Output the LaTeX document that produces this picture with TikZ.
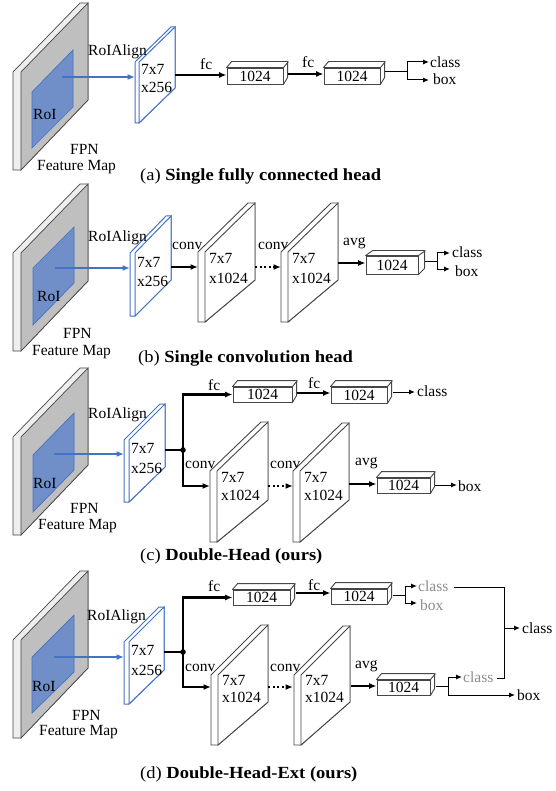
\documentclass[tikz,border=0pt]{standalone}
\usepackage{fontspec}
\setmainfont{Liberation Serif}
\newfontfamily\capfont[FakeStretch=1.09]{Liberation Serif}
\usetikzlibrary{arrows.meta}
\definecolor{roiblue}{RGB}{68,114,196}
\definecolor{roifill}{RGB}{112,142,200}
\definecolor{fpngray}{RGB}{191,191,191}
\definecolor{striplight}{RGB}{238,238,238}
\definecolor{edgegray}{RGB}{70,70,70}
\definecolor{txtgray}{RGB}{140,140,140}
\tikzset{
  lbl/.style={font=\fontsize{15.5}{17}\selectfont, inner sep=0pt, anchor=base west},
  glbl/.style={lbl, text=txtgray},
  captext/.style={font=\capfont\fontsize{17}{20}\selectfont, inner sep=0pt, anchor=base west},
  fcbox/.style={draw=edgegray, line width=0.9pt, fill=white, inner sep=0pt, font=\fontsize{15.5}{17}\selectfont},
  thickarr/.style={line width=2.1pt, -{Latex[length=7.5pt,width=6pt]}},
  thickline/.style={line width=2.1pt},
  dotarr/.style={line width=2.1pt, dash pattern=on 2.2pt off 2.4pt, -{Latex[length=7.5pt,width=6pt]}},
  thinarr/.style={line width=1pt, -{Latex[length=6pt,width=5pt]}},
  thinline/.style={line width=1pt},
  bluearr/.style={roiblue, line width=2.1pt, -{Latex[length=7.5pt,width=6pt]}},
  fpnout/.style={draw=edgegray, fill=striplight, line width=0.7pt},
  fpnfront/.style={draw=edgegray, fill=fpngray, line width=0.7pt},
  roiout/.style={draw=roiblue, fill=white, line width=1pt},
  convout/.style={draw=edgegray, fill=white, line width=0.9pt},
  roiarea/.style={draw=roiblue, fill=roifill, line width=0.7pt},
}
% #1 outer style, #2 front style, #3 x0, #4 yT, #5 W, #6 dyTop, #7 dyRB, #8 H, #9 t
\newcommand\myslab[9]{%
  \filldraw[#1] ({#3-(#9)},#4) -- ({#3-(#9)+(#5)},{#4+(#6)}) -- ({#3+(#5)},{#4+(#6)}) -- ({#3+(#5)},{#4+(#7)}) -- (#3,{#4+(#8)}) -- ({#3-(#9)},{#4+(#8)}) -- cycle;
  \filldraw[#2] (#3,#4) -- ({#3+(#5)},{#4+(#6)}) -- ({#3+(#5)},{#4+(#7)}) -- (#3,{#4+(#8)}) -- cycle;
}
% name, cx, cy, w, h, dx, dy
\newcommand\cubebox[7]{%
  \node[fcbox, minimum width=#4pt, minimum height=#5pt] (#1) at (#2,#3) {1024};
  \filldraw[fill=white, draw=edgegray, line width=0.9pt, line join=round] (#1.north west) -- ++(#6,#7) -- ++(#4,0) -- ++(0,#5) -- (#1.south east) -- (#1.north east) -- cycle;
  \draw[draw=edgegray, line width=0.9pt] (#1.north east) -- ++(#6,#7);
}
\begin{document}
\begin{tikzpicture}[x=1pt,y=-1pt]
\useasboundingbox[fill=white] (0,0) rectangle (555,791);

% ================= (a) =================
\myslab{fpnout}{fpnfront}{21}{72}{67}{-69}{28}{98}{8}
\filldraw[roiarea] (32,92) -- (73,50) -- (73,107) -- (32,148) -- cycle;
\myslab{roiout}{roiout}{139}{62}{36}{-35}{26}{61}{4}
\node[lbl] (a77) at (141,75) {7x7};
\node[lbl] (a256) at (141,93) {x256};
\node[lbl] (aAlign) at (88,55.5) {RoIAlign};
\node[lbl] (aRoI) at (33,119.5) {RoI};
\node[lbl] (aFPN) at (70,155) {FPN};
\node[lbl] (aFM) at (37,170.5) {Feature Map};
\coordinate (aS) at (62,77);
\coordinate (aT) at (135,77);
\draw[bluearr] (aS) -- (aT);
\cubebox{a1}{255}{76}{56}{16}{5}{-6}
\cubebox{a2}{352}{76}{56}{16}{5}{-6}
\coordinate (aR) at (175,75);
\draw[thickarr] (aR) -- (aR -| a1.west);
\node[lbl] (afc1) at (200,70) {fc};
\coordinate (a1o) at (288,74);
\draw[thickarr] (a1o) -- (a1o -| a2.west);
\node[lbl] (afc2) at (302,68) {fc};
\coordinate (a2o) at (385,72);
\coordinate (aJ) at (407,72);
\coordinate (aCl) at (429,62);
\coordinate (aBx) at (429,80);
\draw[thinline] (a2o) -- (aJ);
\draw[thinarr] (aJ) |- (aCl);
\draw[thinarr] (aJ) |- (aBx);
\node[lbl] (aclass) at (430,68) {class};
\node[lbl] (abox) at (433,85) {box};
\node[captext] (capa) at (140,181) {(a) \textbf{Single fully connected head}};

% ================= (b) =================
\myslab{fpnout}{fpnfront}{21}{253}{67}{-69}{28}{98}{8}
\filldraw[roiarea] (33,268) -- (74,227) -- (74,283) -- (33,325) -- cycle;
\myslab{roiout}{roiout}{135}{253}{36}{-37}{27}{63}{5}
\node[lbl] (b77) at (137,267) {7x7};
\node[lbl] (b256) at (137,287) {x256};
\node[lbl] (bAlign) at (88,242) {RoIAlign};
\node[lbl] (bRoI) at (37,301.5) {RoI};
\node[lbl] (bFPN) at (63,338) {FPN};
\node[lbl] (bFM) at (32,355.5) {Feature Map};
\coordinate (bS) at (55,268);
\coordinate (bT) at (130,268);
\draw[bluearr] (bS) -- (bT);
\myslab{convout}{convout}{205}{252}{50}{-49}{28}{70}{7}
\node[lbl] (b1a) at (209,263) {7x7};
\node[lbl] (b1b) at (209,283) {x1024};
\myslab{convout}{convout}{288}{252}{50}{-49}{28}{70}{7}
\node[lbl] (b2a) at (292,263) {7x7};
\node[lbl] (b2b) at (292,283) {x1024};
\coordinate (bR) at (171,267);
\coordinate (b1in) at (198,267);
\draw[thickarr] (bR) -- (b1in);
\node[lbl] (bconv1) at (172,250) {conv};
\coordinate (b1out) at (255,267);
\coordinate (b2in) at (281,267);
\draw[dotarr] (b1out) -- (b2in);
\node[lbl] (bconv2) at (258,250) {conv};
\cubebox{bb}{392}{265}{52}{18}{7}{-5}
\coordinate (b2out) at (338,263);
\draw[thickarr] (b2out) -- (b2out -| bb.west);
\node[lbl] (bavg) at (343,246) {avg};
\coordinate (bbo) at (425,262);
\coordinate (bJ) at (437,262);
\coordinate (bCl) at (450,253);
\coordinate (bBx) at (450,269);
\draw[thinline] (bbo) -- (bJ);
\draw[thinarr] (bJ) |- (bCl);
\draw[thinarr] (bJ) |- (bBx);
\node[lbl] (bclass) at (452,258) {class};
\node[lbl] (bbox) at (455,276.7) {box};
\node[captext] (capb) at (138,362) {(b) \textbf{Single convolution head}};

% ================= (c) =================
\myslab{fpnout}{fpnfront}{21}{437}{67}{-69}{28}{98}{8}
\filldraw[roiarea] (33,455) -- (74,413) -- (74,470) -- (33,512) -- cycle;
\myslab{roiout}{roiout}{129}{440}{36}{-36}{27}{62}{5}
\node[lbl] (c77) at (131,453) {7x7};
\node[lbl] (c256) at (131,473) {x256};
\node[lbl] (cAlign) at (88,418.5) {RoIAlign};
\node[lbl] (cRoI) at (33,488) {RoI};
\node[lbl] (cFPN) at (70,513) {FPN};
\node[lbl] (cFM) at (38,529.5) {Feature Map};
\coordinate (cS) at (54,454);
\coordinate (cT) at (124,454);
\draw[bluearr] (cS) -- (cT);
\coordinate (cO) at (165,450);
\coordinate (cD) at (183,450);
\draw[thickline] (cO) -- (cD);
\fill (cD) circle (2.8);
\cubebox{c1}{262.5}{394.5}{59}{15}{5}{-6}
\draw[thickarr] (cD) |- (c1.west);
\node[lbl] (cfc1) at (208,390) {fc};
\myslab{convout}{convout}{217}{471}{51}{-49}{29}{71}{7}
\node[lbl] (c1a) at (221,482) {7x7};
\node[lbl] (c1b) at (221,500.5) {x1024};
\coordinate (c1in) at (210,486);
\draw[thickarr] (cD) |- (c1in);
\node[lbl] (cconv1) at (185,468) {conv};
\cubebox{c2}{359}{395}{56}{16}{5}{-6}
\coordinate (c1o) at (297,393);
\draw[thickarr] (c1o) -- (c1o -| c2.west);
\node[lbl] (cfc2) at (308,388) {fc};
\coordinate (c2o) at (393,392);
\coordinate (cCl) at (415,392);
\draw[thinarr] (c2o) -- (cCl);
\node[lbl] (cclass) at (417,396.5) {class};
\myslab{convout}{convout}{300}{471}{49}{-48}{29}{71}{7}
\node[lbl] (c2a) at (304,482) {7x7};
\node[lbl] (c2b) at (304,500.5) {x1024};
\coordinate (cs1o) at (268,486);
\coordinate (cs2i) at (293,486);
\draw[dotarr] (cs1o) -- (cs2i);
\node[lbl] (cconv2) at (270,468) {conv};
\cubebox{c3}{403.5}{485.5}{53}{15}{5}{-6}
\coordinate (cs2o) at (349,484);
\draw[thickarr] (cs2o) -- (cs2o -| c3.west);
\node[lbl] (cavg) at (355,465) {avg};
\coordinate (c3o) at (435,485);
\coordinate (cBx) at (457,485);
\draw[thinarr] (c3o) -- (cBx);
\node[lbl] (cbox) at (458,491.5) {box};
\node[captext] (capc) at (140,560) {(c) \textbf{Double-Head (ours)}};

% ================= (d) =================
\myslab{fpnout}{fpnfront}{21}{640}{67}{-69}{28}{98}{8}
\filldraw[roiarea] (32,657) -- (74,615) -- (74,672) -- (32,713) -- cycle;
\myslab{roiout}{roiout}{129}{642}{35}{-35}{28}{62}{5}
\node[lbl] (d77) at (131,655) {7x7};
\node[lbl] (d256) at (131,675) {x256};
\node[lbl] (dAlign) at (87,620.5) {RoIAlign};
\node[lbl] (dRoI) at (32,691.5) {RoI};
\node[lbl] (dFPN) at (72,720) {FPN};
\node[lbl] (dFM) at (39,735.5) {Feature Map};
\coordinate (dS) at (54,657);
\coordinate (dT) at (124,657);
\draw[bluearr] (dS) -- (dT);
\coordinate (dO) at (164,652);
\coordinate (dD) at (183,652);
\draw[thickline] (dO) -- (dD);
\fill (dD) circle (2.8);
\cubebox{d1}{261.5}{597.5}{57}{15}{5}{-6}
\draw[thickarr] (dD) |- (d1.west);
\node[lbl] (dfc1) at (208,591.5) {fc};
\myslab{convout}{convout}{218}{675}{50}{-50}{27}{70}{7}
\node[lbl] (d1a) at (222,685.5) {7x7};
\node[lbl] (d1b) at (222,702.5) {x1024};
\coordinate (d1in) at (211,687);
\draw[thickarr] (dD) |- (d1in);
\node[lbl] (dconv1) at (185,671) {conv};
\cubebox{d2}{359}{596.5}{56}{15}{5}{-6}
\coordinate (d1o) at (296,593);
\draw[thickarr] (d1o) -- (d1o -| d2.west);
\node[lbl] (dfc2) at (308,590) {fc};
\coordinate (d2o) at (393,595);
\coordinate (dJ) at (405,595);
\coordinate (dCl) at (417,586);
\coordinate (dBx) at (417,603);
\draw[thinline] (d2o) -- (dJ);
\draw[thinarr] (dJ) |- (dCl);
\draw[thinarr] (dJ) |- (dBx);
\node[glbl] (dclassg) at (418,591.5) {class};
\node[glbl] (dboxg) at (420,610) {box};
\coordinate (dCr) at (454,587);
\coordinate (dV) at (504,678);
\coordinate (dC2r) at (497,678);
\draw[thinline] (dCr) -| (dV) -- (dC2r);
\coordinate (dM) at (504,628);
\coordinate (dMe) at (520,628);
\draw[thinarr] (dM) -- (dMe);
\node[lbl] (dclass) at (522,633) {class};
\myslab{convout}{convout}{301}{675}{49}{-49}{27}{70}{7}
\node[lbl] (d2a) at (305,685.5) {7x7};
\node[lbl] (d2b) at (305,702.5) {x1024};
\coordinate (ds1o) at (268,687);
\coordinate (ds2i) at (293,687);
\draw[dotarr] (ds1o) -- (ds2i);
\node[lbl] (dconv2) at (270,671) {conv};
\cubebox{d3}{403.5}{687.5}{53}{15}{5}{-6}
\coordinate (ds2o) at (351,686);
\draw[thickarr] (ds2o) -- (ds2o -| d3.west);
\node[lbl] (davg) at (355,668.5) {avg};
\coordinate (d3o) at (436,686);
\coordinate (dJ2) at (448,686);
\coordinate (dCl2) at (462,677);
\coordinate (dBx2) at (515,695);
\draw[thinline] (d3o) -- (dJ2);
\draw[thinarr] (dJ2) |- (dCl2);
\draw[thinarr] (dJ2) |- (dBx2);
\node[glbl] (dclassg2) at (463,682.5) {class};
\node[lbl] (dbox) at (517,700) {box};
\node[captext] (capd) at (140,778) {(d) \textbf{Double-Head-Ext (ours)}};
\end{tikzpicture}
\end{document}
